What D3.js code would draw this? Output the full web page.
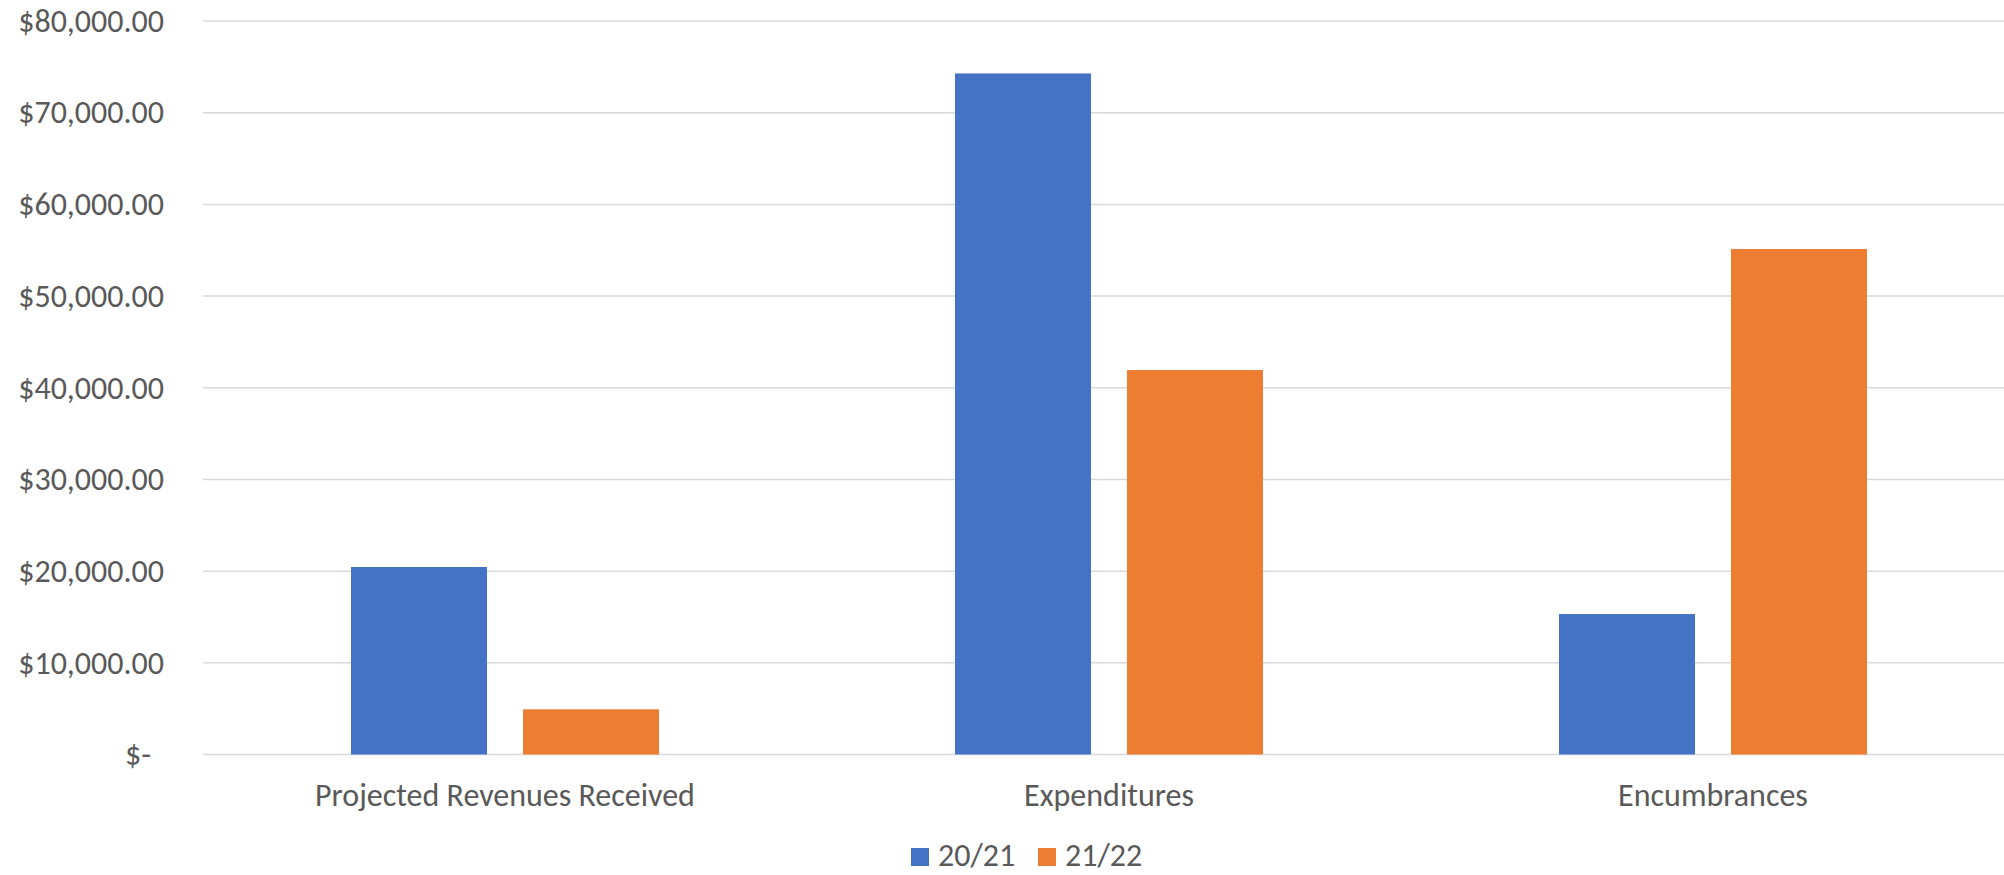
<!DOCTYPE html>
<html>
<head>
<meta charset="utf-8">
<script src="https://cdn.jsdelivr.net/npm/d3@7"></script>
<style>
  html, body { margin: 0; padding: 0; background: #fff; }
  svg text { font-family: Carlito, Calibri, "Open Sans", sans-serif; fill: #595959; }
</style>
</head>
<body>
<svg id="chart" width="2004" height="875"></svg>
<script>
const categories = ["Projected Revenues Received", "Expenditures", "Encumbrances"];
const seriesNames = ["20/21", "21/22"];
const values2021 = [20450, 74280, 15320];
const values2122 = [4930, 41930, 55130];
const yTicks = [0, 10000, 20000, 30000, 40000, 50000, 60000, 70000, 80000];
const colors = ["#4472C4", "#ED7D31"];

const seriesValues = [values2021, values2122];
const svg = d3.select("#chart");
const W = 2004;
const fontSize = 32;

const y = d3.scaleLinear().domain([0, 80000]).range([754.5, 21]);
const x0 = d3.scaleBand().domain(categories).range([203, 2015]).paddingInner(0).paddingOuter(0);
const groupW = 308;
const x1 = d3.scaleBand().domain(seriesNames).range([0, groupW]).paddingInner(0.2093).paddingOuter(0);

// gridlines
svg.append("g").selectAll("line").data(yTicks).join("line")
  .attr("x1", 203).attr("x2", W)
  .attr("y1", d => y(d)).attr("y2", d => y(d))
  .attr("stroke", "#d9d9d9").attr("stroke-width", 1.5);

// y axis labels
const fmt = d3.format("$,.2f");
const yAxis = d3.axisLeft(y).tickValues(yTicks).tickSize(0).tickPadding(0)
  .tickFormat(d => d === 0 ? "$-" : fmt(d));
const gy = svg.append("g").attr("transform", "translate(164,0)").call(yAxis);
gy.select(".domain").remove();
gy.selectAll("text").attr("font-size", fontSize).attr("font-family", null)
  .attr("fill", "#595959")
  .attr("dx", d => d === 0 ? -13 : 0);

// bars
const rows = categories.map((c, i) => ({ cat: c, vals: seriesNames.map((s, j) => ({ s, v: seriesValues[j][i], j })) }));
const groups = svg.append("g").selectAll("g").data(rows).join("g")
  .attr("transform", d => `translate(${x0(d.cat) + (x0.bandwidth() - groupW) / 2},0)`);
groups.selectAll("rect").data(d => d.vals).join("rect")
  .attr("x", d => x1(d.s))
  .attr("width", x1.bandwidth())
  .attr("y", d => y(d.v))
  .attr("height", d => y(0) - y(d.v))
  .attr("fill", d => colors[d.j]);

// category labels
svg.append("g").selectAll("text").data(categories).join("text")
  .attr("x", d => x0(d) + x0.bandwidth() / 2)
  .attr("y", 806)
  .attr("text-anchor", "middle")
  .attr("font-size", fontSize)
  .text(d => d);

// legend
const legendX = [911, 1038];
const lg = svg.append("g").selectAll("g").data(seriesNames).join("g")
  .attr("transform", (d, i) => `translate(${legendX[i]},0)`);
lg.append("rect").attr("x", 0).attr("y", 848).attr("width", 18).attr("height", 18)
  .attr("fill", (d, i) => colors[i]);
lg.append("text").attr("x", 27).attr("y", 866).attr("font-size", fontSize).text(d => d);
</script>
</body>
</html>
